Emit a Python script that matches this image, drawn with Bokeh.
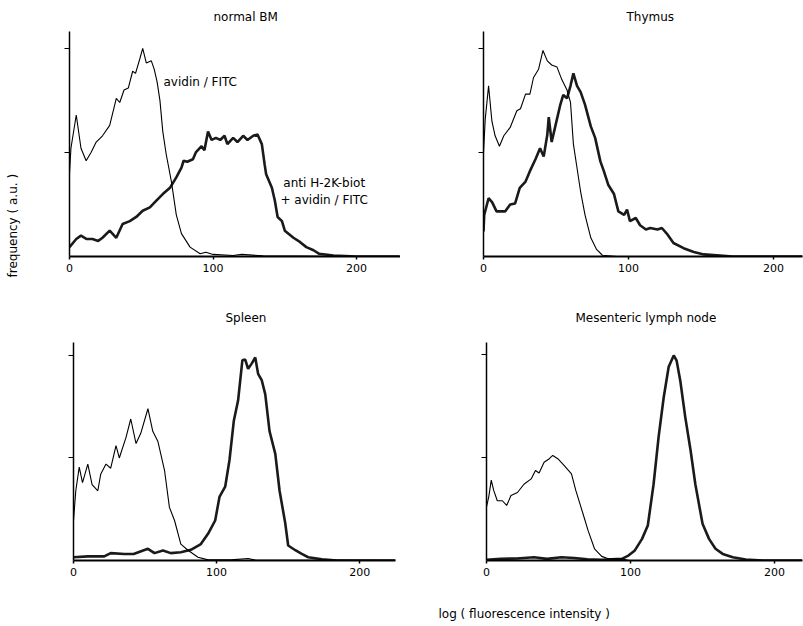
from bokeh.plotting import figure
from bokeh.layouts import column, row
from bokeh.models import Range1d, FixedTicker, Label, Title, LinearAxis
from bokeh.embed import file_html
from bokeh.resources import INLINE

# ---- data (x = log fluorescence channel, y = relative frequency, peak = 100) ----
bm_avidin = [(0, 40), (1, 52), (4.7, 68), (8, 52), (11.6, 46), (15, 50), (18.6, 55), (23, 58),
             (28, 63), (32.6, 76), (35, 74), (38, 80), (41, 81), (44, 89), (46, 88), (49, 95),
             (51, 100), (53.5, 93), (57, 94), (59, 90), (61, 84), (63, 75), (65, 60), (67.4, 49),
             (71, 36), (74.4, 20), (78, 11), (84, 4.5), (91, 1.3), (95, 2), (100, 1), (114, 0.5),
             (120, 1), (135, 0.3), (160, 0.2), (200, 0), (230, 0)]
bm_h2k = [(0, 4.5), (4.7, 8.4), (8, 10), (12, 8.4), (16, 8.4), (20, 7.5), (23, 9), (28, 12.4),
          (32.6, 9), (37, 15.6), (42, 17), (46.5, 19), (51, 22), (56, 23.6), (60.5, 26.8), (65, 30),
          (70, 33), (74.4, 38), (78, 42.7), (79.5, 46), (82, 45.5), (86, 46.7), (88, 50), (92, 53),
          (94, 51), (96.5, 60), (99, 56), (102, 57), (105, 56), (108, 58), (110, 54), (114, 57),
          (117, 55), (121, 58), (124, 56), (128, 58), (131, 58.6), (134, 54), (136, 44), (137, 39.5),
          (141, 33), (143, 27), (145, 19), (148, 17), (150, 12.4), (156, 9), (160.5, 7), (165, 4.5),
          (170, 3), (174, 1.3), (184, 0.5), (200, 0), (230, 0)]
thy_avidin = [(0, 50), (1.2, 66), (3.5, 82), (5.8, 65), (8, 58), (11, 53), (14, 58), (18.4, 62),
              (23, 70), (25.5, 71), (29, 78), (32, 78), (34.5, 86), (38, 90), (41, 99), (44, 94),
              (47, 92), (50.7, 91), (54, 85), (57.6, 80), (60, 74), (62, 54), (64.5, 42.5), (67, 31),
              (70, 20), (74, 9), (78, 3.4), (82, 0.6), (92, 0), (220, 0)]
thy_h2k = [(0, 12), (0.5, 20), (3.5, 28), (6, 26), (9, 21.7), (15, 21.7), (18.4, 25), (21.8, 25.5),
           (25, 33), (29, 36), (32, 41), (36, 47), (39, 52), (41.5, 48), (44, 58.5), (45, 67),
           (47, 55), (49.5, 62.5), (53, 73), (55, 77.6), (57.6, 76), (60, 82), (62, 88), (64.5, 82),
           (67, 79), (70, 73), (74, 62.5), (77, 57), (80.6, 45.7), (83, 41), (86, 34.5), (90, 30),
           (93, 21.7), (97, 20), (99, 22.5), (101, 17), (105, 18.5), (108, 15), (112, 13),
           (115, 13.7), (120, 13), (123, 13.7), (127, 10.5), (131, 6.5), (138, 4), (145, 2.2),
           (152, 1), (172, 0), (220, 0)]
spl_avidin = [(0, 19.5), (1.6, 34), (4, 45.5), (6.3, 38), (10, 47), (13, 37), (17, 34), (19, 42),
              (22.7, 47), (26, 45), (29.7, 56), (32, 50), (36.7, 60), (40, 69), (43.7, 57), (47, 62),
              (52, 74), (55.4, 63), (59, 58), (63.6, 44), (67, 26), (70.6, 19.5), (75, 8), (80, 5),
              (87, 1.6), (94, 0.3), (110, 0.3), (122, 1), (127, 0.2), (225, 0)]
spl_h2k = [(0, 1.6), (10, 2), (21.5, 2), (26, 3.6), (35.5, 3.2), (42, 3.2), (52, 5.7), (56.6, 3.6),
           (62.5, 4.9), (68, 3.6), (75, 4), (82, 5.2), (89, 8), (94, 13), (99, 19.5), (102, 31),
           (106, 36), (109, 49), (112, 68), (115, 78), (118, 97.6), (120, 98), (122, 93.5),
           (124.5, 96), (127, 99), (129, 91), (131.5, 88), (134, 81), (137, 63), (141, 52),
           (144, 34), (148, 18), (150, 7.3), (155, 5), (159.5, 3.2), (164, 1.6), (173.6, 0.6),
           (184, 0), (225, 0)]
mln_avidin = [(0, 26), (1.6, 31), (3.3, 39), (5, 34), (7.5, 29), (11, 29), (14, 26.7), (17, 31.5),
              (21.5, 33), (26, 37), (31, 39.6), (34, 43.7), (36.5, 42.5), (40, 47.7), (43.6, 49.4),
              (46, 51), (49.5, 49.4), (54, 46), (59, 42), (62, 34), (67, 22.7), (70.5, 14.6),
              (75, 5.7), (80, 2), (84.5, 0.8), (94, 0.8), (99, 0), (219, 0)]
mln_h2k = [(0, 0.3), (10, 0.8), (21, 1), (33, 1.6), (42, 0.8), (52, 1.6), (61, 1.2), (70, 0.6),
           (80, 0.3), (94, 0.8), (98.5, 2.4), (103, 4.9), (108, 10.5), (112, 17), (116, 37),
           (119.5, 60), (123, 79), (126.5, 94), (130, 99.5), (132, 97), (134.6, 87), (138, 69.6),
           (141.7, 53.4), (145, 37), (150, 17.8), (154.5, 10.5), (159, 5.7), (164, 3.2),
           (171, 1.6), (180, 0.5), (192, 0), (219, 0)]

titles = ["normal BM", "Thymus", "Spleen", "Mesenteric lymph node"]
y_label = "frequency ( a.u. )"
x_label = "log ( fluorescence intensity )"
x_ticks = [0, 100, 200]
y_ticks = [50, 100]

FONT = "DejaVu Sans"
TXT = "12px"


def make_fig(title, w, h, left, right, top, bottom, xend, yend, standoff, offset):
    p = figure(width=w, height=h, x_range=Range1d(0, xend), y_range=Range1d(0, yend),
               output_backend="svg", toolbar_location=None,
               min_border_left=left, min_border_right=right,
               min_border_top=top, min_border_bottom=bottom, title=title)
    p.title.text_font = FONT
    p.title.text_font_size = TXT
    p.title.text_font_style = "normal"
    p.title.text_color = "black"
    p.title.align = "left"
    p.title.offset = offset
    p.title.standoff = standoff
    p.outline_line_color = None
    p.xgrid.visible = False
    p.ygrid.visible = False
    p.background_fill_color = "white"
    p.border_fill_color = "white"

    p.xaxis.ticker = FixedTicker(ticks=x_ticks)
    p.xaxis.major_tick_in = 0
    p.xaxis.major_tick_out = 3
    p.xaxis.minor_tick_out = 0
    p.xaxis.minor_tick_in = 0
    p.xaxis.axis_line_width = 2
    p.xaxis.major_tick_line_width = 1.5
    p.xaxis.major_label_text_font = FONT
    p.xaxis.major_label_text_font_size = "11px"
    p.xaxis.major_label_standoff = 4
    p.xaxis.major_label_text_color = "black"

    p.yaxis.ticker = FixedTicker(ticks=y_ticks)
    p.yaxis.major_tick_in = 0
    p.yaxis.major_tick_out = 5
    p.yaxis.minor_tick_out = 0
    p.yaxis.minor_tick_in = 0
    p.yaxis.axis_line_width = 1.5
    p.yaxis.major_tick_line_width = 1.2
    p.yaxis.major_label_overrides = {t: "" for t in y_ticks}
    return p


def draw(p, thin, thick):
    p.line([a for a, b in thick], [b for a, b in thick], line_color="#1a1a1a", line_width=2.6)
    p.line([a for a, b in thin], [b for a, b in thin], line_color="black", line_width=1.1)


def spacer_axis(size, tick):
    # an invisible axis (no line, hidden tick, empty label) that only reserves room in a side panel
    return LinearAxis(ticker=FixedTicker(ticks=[tick]), axis_line_color=None,
                      major_tick_in=0, major_tick_out=size, minor_tick_in=0, minor_tick_out=0,
                      major_tick_line_color=None, minor_tick_line_color=None,
                      major_label_overrides={tick: ""})


p1 = make_fig(titles[0], 400, 290, 69, 0, 30, 34, 230.6, 108.1, 15, 144)
p2 = make_fig(titles[1], 403, 290, 83, 1, 30, 34, 220.0, 108.1, 15, 143)
p3 = make_fig(titles[2], 400, 336, 73, 5, 52, 66, 225.0, 106.3, 36, 152)
p4 = make_fig(titles[3], 403, 336, 86, 1, 52, 66, 219.4, 105.8, 36, 89)

draw(p1, bm_avidin, bm_h2k)
draw(p2, thy_avidin, thy_h2k)
draw(p3, spl_avidin, spl_h2k)
draw(p4, mln_avidin, mln_h2k)

lab = dict(text_font=FONT, text_font_size=TXT, text_color="black")
p1.add_layout(Label(x=65.5, y=84, text="avidin / FITC", text_baseline="middle", **lab))
p1.add_layout(Label(x=149, y=35.4, text="anti H-2K-biot", text_baseline="middle", **lab))
p1.add_layout(Label(x=147, y=27.3, text="+ avidin / FITC", text_baseline="middle", **lab))

# shared axis titles, placed as side titles so they are drawn outside the frames
p1.add_layout(spacer_axis(45, 50), "left")
p1.add_layout(Title(text=y_label, align="left", offset=-21, standoff=0,
                    text_font=FONT, text_font_size=TXT, text_font_style="normal",
                    text_color="black"), "left")
p4.add_layout(spacer_axis(26, 100), "below")
p4.add_layout(Title(text=x_label, align="left", offset=-48, standoff=0,
                    text_font=FONT, text_font_size=TXT, text_font_style="normal",
                    text_color="black"), "below")

layout = column(row(p1, p2), row(p3, p4))
open("out.html", "w").write(file_html(layout, INLINE))
